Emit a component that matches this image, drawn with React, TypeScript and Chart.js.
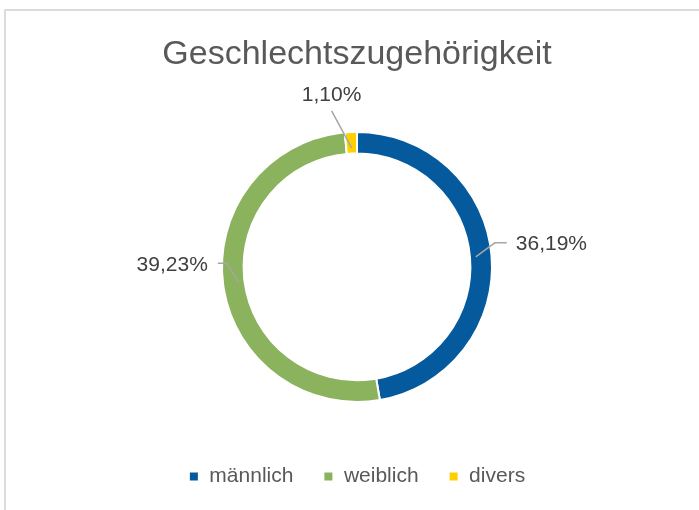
import React, { useEffect, useRef } from "react";
import { Chart, registerables } from "chart.js";

Chart.register(...registerables);

const categories = ["männlich", "weiblich", "divers"];
const values = [36.19, 39.23, 1.1];
const valueLabels = ["36,19%", "39,23%", "1,10%"];
const colors = ["#045A9C", "#8BB25C", "#FFD000"];
const titleText = "Geschlechtszugehörigkeit";

// leader-line / label placement relative to each slice's anchor point (style only)
const labelLayout = [
  { elbow: [19, -14], end: [31, -14], text: [40, -13], align: "left" },
  { elbow: [-12, -19], end: [-21, -19], text: [-31, -17], align: "right" },
  { elbow: [-10, -18], end: [-20, -37], text: [-20, -53], align: "center" },
];

const labelPlugin = {
  id: "sliceLabels",
  afterDatasetsDraw(chart: any) {
    const ctx = chart.ctx;
    const meta = chart.getDatasetMeta(0);
    meta.data.forEach((arc: any, i: number) => {
      const p = arc.getProps(["x", "y", "startAngle", "endAngle", "innerRadius", "outerRadius"], true);
      const mid = (p.startAngle + p.endAngle) / 2;
      const r = (p.innerRadius + p.outerRadius) / 2 - 5;
      const ax = p.x + Math.cos(mid) * r;
      const ay = p.y + Math.sin(mid) * r;
      const L = labelLayout[i];
      ctx.save();
      ctx.strokeStyle = "#A6A6A6";
      ctx.lineWidth = 1.5;
      ctx.beginPath();
      ctx.moveTo(ax, ay);
      if (i === 2) {
        ctx.lineTo(ax + L.end[0], ay + L.end[1]);
      } else {
        ctx.lineTo(ax + L.elbow[0], ay + L.elbow[1]);
        ctx.lineTo(ax + L.end[0], ay + L.end[1]);
      }
      ctx.stroke();
      ctx.fillStyle = "#404040";
      ctx.font = "21px 'Liberation Sans', Arial, sans-serif";
      ctx.textAlign = L.align;
      ctx.textBaseline = "middle";
      ctx.fillText(valueLabels[i], ax + L.text[0], ay + L.text[1]);
      ctx.restore();
    });
  },
};

export default function App() {
  const ref = useRef<HTMLCanvasElement | null>(null);
  useEffect(() => {
    const chart = new Chart(ref.current as HTMLCanvasElement, {
      type: "doughnut",
      data: {
        labels: categories,
        datasets: [
          {
            data: values,
            backgroundColor: colors,
            borderColor: "#ffffff",
            borderWidth: 2,
            radius: 135,
            cutout: "84%",
          } as any,
        ],
      },
      options: {
        responsive: false,
        animation: false,
        layout: { padding: { left: 15, right: 0, top: 0, bottom: 13 } },
        plugins: {
          tooltip: { enabled: false },
          title: {
            display: true,
            text: titleText,
            color: "#595959",
            font: { family: "'Liberation Sans', Arial, sans-serif", size: 34, weight: "normal" },
            padding: { top: 34, bottom: 23 },
          },
          legend: {
            position: "bottom",
            labels: {
              boxWidth: 10,
              boxHeight: 10,
              padding: 30,
              color: "#595959",
              font: { family: "'Liberation Sans', Arial, sans-serif", size: 21 },
            },
          },
        },
      } as any,
      plugins: [labelPlugin],
    });
    return () => chart.destroy();
  }, []);
  return (
    <div style={{ position: "fixed", left: 0, top: 0, width: 699, height: 510, background: "#fff", overflow: "hidden" }}>
      <div
        style={{
          position: "absolute",
          left: 4,
          top: 9,
          width: 720,
          height: 540,
          borderLeft: "2px solid #dcdcdc",
          borderTop: "2px solid #dcdcdc",
        }}
      />
      <canvas ref={ref} width={699} height={510} style={{ position: "absolute", left: 0, top: 0 }} />
    </div>
  );
}
